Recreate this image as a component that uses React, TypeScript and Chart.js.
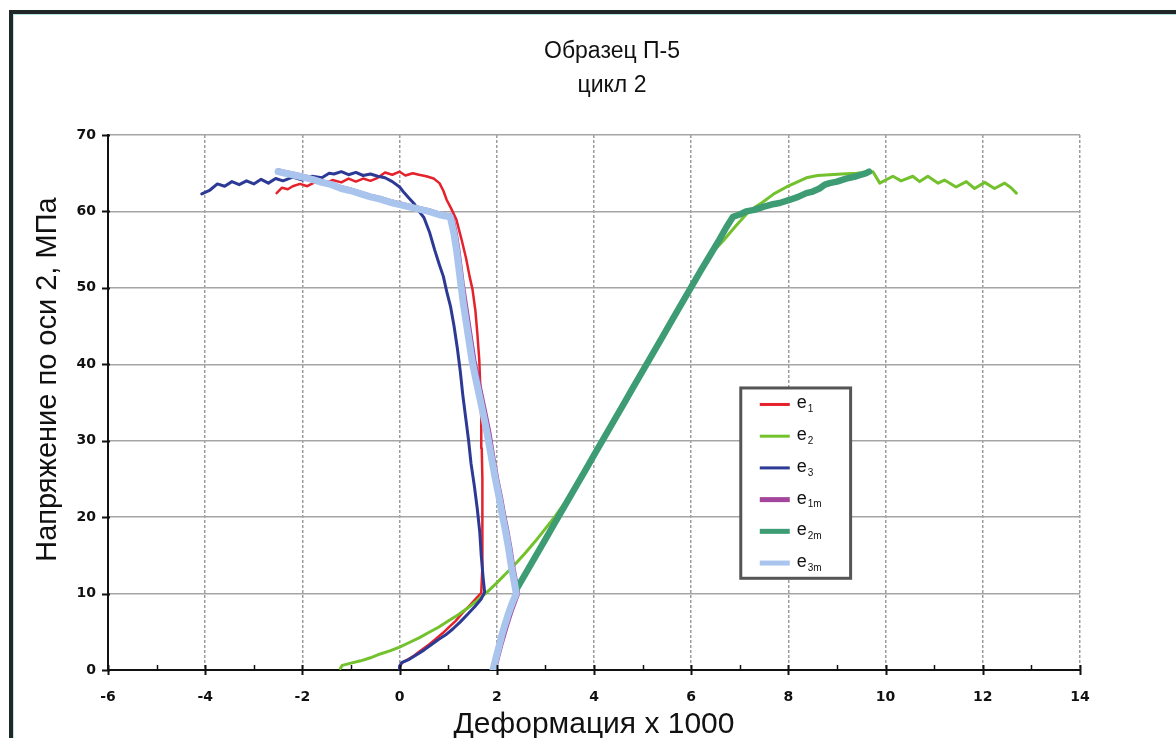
import React, { useEffect, useRef } from "react";
import { Chart, registerables } from "chart.js";

Chart.register(...registerables);

// ---------- text ----------
const titleLines = ["Образец П-5", "цикл 2"];
const xAxisTitle = "Деформация x 1000";
const yAxisTitle = "Напряжение по оси 2, МПа";
const seriesBase = ["e", "e", "e", "e", "e", "e"];
const seriesSub = ["1", "2", "3", "1m", "2m", "3m"];
const seriesNames = ["e1", "e2", "e3", "e1m", "e2m", "e3m"];

// ---------- axes ----------
const xMin = -6;
const xMax = 14;
const xStep = 2;
const yMin = 0;
const yMax = 70;
const yStep = 10;

// ---------- data ----------
const e1X = [0.0, 0.04, 0.15, 0.3, 0.45, 0.6, 0.75, 0.9, 1.0, 1.15, 1.3, 1.45, 1.58, 1.68, 1.7, 1.71, 1.7, 1.7, 1.69, 1.68, 1.66, 1.64, 1.6, 1.56, 1.5, 1.44, 1.37, 1.28, 1.17, 1.06, 0.97, 0.9, 0.82, 0.7, 0.55, 0.4, 0.27, 0.12, 0.0, -0.15, -0.3, -0.45, -0.6, -0.75, -0.9, -1.05, -1.2, -1.38, -1.55, -1.75, -1.9, -2.05, -2.2, -2.3, -2.42, -2.53];
const e1Y = [0.3, 0.9, 1.3, 1.9, 2.6, 3.3, 4.1, 4.9, 5.5, 6.4, 7.5, 8.5, 9.4, 10.1, 13.0, 17.0, 21.0, 25.0, 29.0, 33.0, 37.0, 40.5, 44.0, 47.0, 49.8, 51.5, 53.8, 56.2, 58.9, 60.4, 61.5, 62.7, 63.7, 64.3, 64.6, 64.8, 65.0, 64.7, 65.2, 64.8, 65.1, 64.4, 64.0, 64.3, 63.9, 64.3, 63.8, 64.1, 63.6, 63.8, 63.3, 63.6, 63.3, 62.9, 63.1, 62.4];

const e2X = [-1.22, -1.18, -1.0, -0.8, -0.6, -0.4, -0.2, 0.0, 0.2, 0.4, 0.6, 0.8, 1.0, 1.2, 1.4, 1.6, 1.8, 2.0, 2.2, 2.4, 2.6, 2.8, 3.0, 3.2, 3.4, 3.6, 3.8, 4.0, 4.3, 4.6, 4.9, 5.2, 5.5, 5.8, 6.1, 6.4, 6.65, 6.93, 7.2, 7.47, 7.7, 7.96, 8.2, 8.37, 8.6, 8.85, 9.1, 9.4, 9.74, 9.88, 10.15, 10.32, 10.56, 10.7, 10.87, 11.08, 11.21, 11.45, 11.66, 11.83, 12.04, 12.24, 12.45, 12.58, 12.69];
const e2Y = [0.2, 0.6, 0.9, 1.2, 1.6, 2.1, 2.5, 3.0, 3.6, 4.2, 4.9, 5.6, 6.4, 7.2, 8.1, 9.1, 10.2, 11.4, 12.7, 14.0, 15.4, 16.9, 18.5, 20.1, 21.9, 24.0, 26.1, 28.3, 31.6, 35.0, 38.3, 41.6, 44.9, 48.2, 51.4, 54.4, 56.1, 58.2, 60.1, 61.2, 62.3, 63.2, 63.9, 64.4, 64.7, 64.8, 64.9, 65.0, 65.2, 63.7, 64.6, 64.0, 64.6, 63.9, 64.6, 63.7, 64.1, 63.2, 63.9, 63.0, 63.8, 63.0, 63.7, 63.1, 62.4];

const e3X = [0.0, 0.0, 0.05, 0.2, 0.35, 0.5, 0.65, 0.8, 0.95, 1.1, 1.25, 1.4, 1.55, 1.68, 1.75, 1.72, 1.68, 1.65, 1.6, 1.54, 1.47, 1.42, 1.36, 1.3, 1.25, 1.19, 1.12, 1.05, 0.97, 0.9, 0.82, 0.72, 0.62, 0.5, 0.4, 0.3, 0.2, 0.1, 0.0, -0.15, -0.3, -0.45, -0.6, -0.75, -0.9, -1.05, -1.2, -1.35, -1.45, -1.6, -1.8, -2.0, -2.2, -2.4, -2.55, -2.7, -2.85, -3.0, -3.15, -3.3, -3.45, -3.6, -3.75, -3.9, -4.07];
const e3Y = [0.0, 0.5, 1.0, 1.4, 2.0, 2.6, 3.3, 4.0, 4.6, 5.4, 6.3, 7.3, 8.3, 9.3, 10.2, 12.0, 15.0, 18.0, 21.0, 24.0, 27.0, 30.0, 33.0, 36.0, 39.0, 42.0, 45.0, 47.5, 49.5, 51.5, 53.0, 55.0, 57.2, 59.2, 60.0, 61.0, 61.7, 62.4, 63.2, 63.9, 64.4, 64.6, 64.9, 64.7, 65.1, 64.8, 65.2, 64.9, 65.0, 64.4, 64.6, 64.1, 64.5, 64.0, 64.3, 63.7, 64.2, 63.6, 64.0, 63.5, 63.9, 63.3, 63.6, 62.8, 62.3];

const e1mX = [1.95, 1.99, 2.03, 2.08, 2.14, 2.21, 2.28, 2.36, 2.43, 2.39, 2.33, 2.27, 2.2, 2.15, 2.08, 2.0, 1.92, 1.84, 1.76, 1.67, 1.59, 1.53, 1.47, 1.41, 1.35, 1.29, 1.24, 1.2, 1.15, 1.1, 1.06, 0.95, 0.8, 0.6, 0.4, 0.2, 0.0, -0.2, -0.4, -0.6, -0.8, -1.0, -1.2, -1.4, -1.6, -1.8, -2.0, -2.2, -2.35, -2.48];
const e1mY = [0.0, 1.0, 2.0, 3.2, 4.5, 6.0, 7.4, 8.8, 10.0, 11.5, 13.5, 16.0, 18.5, 20.0, 22.5, 25.0, 27.8, 31.0, 33.5, 36.2, 38.6, 40.5, 43.0, 45.5, 48.0, 50.5, 53.0, 55.0, 57.0, 58.5, 59.4, 59.5, 59.7, 60.1, 60.4, 60.7, 61.0, 61.3, 61.7, 62.0, 62.4, 62.8, 63.1, 63.6, 63.9, 64.3, 64.6, 64.9, 65.1, 65.3];

const e2mX = [2.4, 2.6, 2.8, 3.0, 3.2, 3.4, 3.6, 3.8, 4.0, 4.2, 4.4, 4.6, 4.8, 5.0, 5.2, 5.4, 5.6, 5.8, 6.0, 6.2, 6.4, 6.58, 6.72, 6.86, 7.0, 7.13, 7.3, 7.48, 7.65, 7.82, 8.02, 8.2, 8.37, 8.5, 8.64, 8.75, 8.85, 9.0, 9.19, 9.4, 9.6, 9.66];
const e2mY = [10.5, 12.7, 14.9, 17.1, 19.3, 21.5, 23.7, 25.9, 28.1, 30.3, 32.5, 34.7, 36.9, 39.1, 41.3, 43.5, 45.7, 47.9, 50.1, 52.3, 54.4, 56.3, 57.9, 59.3, 59.6, 60.0, 60.2, 60.6, 60.9, 61.1, 61.5, 61.9, 62.4, 62.6, 63.0, 63.5, 63.7, 63.9, 64.3, 64.6, 65.0, 65.2];

const e3mX = [1.92, 1.96, 2.0, 2.05, 2.1, 2.17, 2.24, 2.32, 2.4, 2.36, 2.3, 2.24, 2.17, 2.12, 2.05, 1.97, 1.89, 1.8, 1.72, 1.63, 1.55, 1.49, 1.43, 1.37, 1.31, 1.26, 1.21, 1.17, 1.12, 1.07, 1.04, 0.95, 0.8, 0.6, 0.4, 0.2, 0.0, -0.2, -0.4, -0.6, -0.8, -1.0, -1.2, -1.4, -1.6, -1.8, -2.0, -2.2, -2.35, -2.5];
const e3mY = [0.0, 1.0, 2.0, 3.2, 4.5, 6.0, 7.4, 8.8, 10.0, 11.5, 13.5, 16.0, 18.5, 20.0, 22.5, 25.0, 27.8, 31.0, 33.5, 36.2, 38.6, 40.5, 43.0, 45.5, 48.0, 50.5, 53.0, 55.0, 57.0, 58.5, 59.3, 59.4, 59.6, 60.0, 60.3, 60.6, 60.9, 61.2, 61.6, 61.9, 62.3, 62.7, 63.0, 63.5, 63.8, 64.2, 64.5, 64.8, 65.0, 65.2];

// ---------- styles ----------
const seriesColors = ["#e5212b", "#73c12c", "#2c3a95", "#a4459d", "#3e9c74", "#a9c5ee"];
const seriesWidths = [2.5, 3, 3, 5, 6.5, 7];
const seriesOrder = [6, 5, 4, 3, 2, 1];

const zip = (xs: number[], ys: number[]) => xs.map((x, i) => ({ x, y: ys[i] }));

const seriesData = [
  zip(e1X, e1Y),
  zip(e2X, e2Y),
  zip(e3X, e3Y),
  zip(e1mX, e1mY),
  zip(e2mX, e2mY),
  zip(e3mX, e3mY),
];

// legend box corners in data units (placement inside plot)
const legendBoxX = [7.02, 9.28];
const legendBoxY = [36.9, 12.0];
// vertical axis title centre, in data units
const yTitleCentre = 38;

const axisTicksPlugin = {
  id: "axisTicks",
  afterDraw(chart: any) {
    const { ctx, scales, chartArea } = chart;
    const x = scales.x;
    const y = scales.y;
    ctx.save();
    ctx.strokeStyle = "#111";
    for (let v = xMin; v <= xMax; v += 1) {
      const px = Math.round(x.getPixelForValue(v)) + 0.5;
      ctx.beginPath();
      if (v % 2 === 0) {
        ctx.lineWidth = 2;
        ctx.moveTo(px, chartArea.bottom - 5);
        ctx.lineTo(px, chartArea.bottom + 5);
      } else {
        ctx.lineWidth = 1.5;
        ctx.moveTo(px, chartArea.bottom - 5);
        ctx.lineTo(px, chartArea.bottom);
      }
      ctx.stroke();
    }
    for (let v = yMin; v <= yMax; v += yStep) {
      const py = Math.round(y.getPixelForValue(v)) + 0.5;
      ctx.lineWidth = 2;
      ctx.beginPath();
      ctx.moveTo(chartArea.left - 6, py);
      ctx.lineTo(chartArea.left + 2, py);
      ctx.stroke();
    }
    // vertical axis title
    const cy = y.getPixelForValue(yTitleCentre);
    ctx.translate(48, cy);
    ctx.rotate(-Math.PI / 2);
    ctx.fillStyle = "#111";
    ctx.textAlign = "center";
    ctx.textBaseline = "middle";
    ctx.font = "29px 'Liberation Sans', Arial, sans-serif";
    ctx.fillText(yAxisTitle, 0, 0);
    ctx.restore();
  },
};

const boxLegendPlugin = {
  id: "boxLegend",
  afterDraw(chart: any) {
    const { ctx, scales } = chart;
    const left = scales.x.getPixelForValue(legendBoxX[0]);
    const right = scales.x.getPixelForValue(legendBoxX[1]);
    const top = scales.y.getPixelForValue(legendBoxY[0]);
    const bottom = scales.y.getPixelForValue(legendBoxY[1]);
    ctx.save();
    ctx.fillStyle = "#ffffff";
    ctx.fillRect(left, top, right - left, bottom - top);
    ctx.strokeStyle = "#555555";
    ctx.lineWidth = 3;
    ctx.strokeRect(left, top, right - left, bottom - top);
    const n = seriesNames.length;
    const step = (bottom - top) / n;
    for (let i = 0; i < n; i++) {
      const cy = top + step * (i + 0.52);
      ctx.strokeStyle = seriesColors[i];
      ctx.lineWidth = i < 3 ? 3 : 5;
      ctx.beginPath();
      ctx.moveTo(left + 19, cy);
      ctx.lineTo(left + 49, cy);
      ctx.stroke();
      ctx.fillStyle = "#111";
      ctx.textBaseline = "middle";
      ctx.textAlign = "left";
      ctx.font = "18px 'Liberation Sans', Arial, sans-serif";
      const bx = left + 56;
      ctx.fillText(seriesBase[i], bx, cy - 1);
      const w = ctx.measureText(seriesBase[i]).width;
      ctx.font = "10px 'Liberation Sans', Arial, sans-serif";
      ctx.fillText(seriesSub[i], bx + w + 1, cy + 5);
    }
    ctx.restore();
  },
};

export default function App() {
  const canvasRef = useRef<HTMLCanvasElement | null>(null);

  useEffect(() => {
    const canvas = canvasRef.current;
    if (!canvas) return;
    const chart = new Chart(canvas, {
      type: "scatter",
      data: {
        datasets: seriesData.map((d, i) => ({
          label: seriesNames[i],
          data: d,
          showLine: true,
          borderColor: seriesColors[i],
          backgroundColor: seriesColors[i],
          borderWidth: seriesWidths[i],
          pointRadius: 0,
          pointHoverRadius: 0,
          tension: 0,
          fill: false,
          order: seriesOrder[i],
          borderJoinStyle: "round" as const,
          borderCapStyle: "round" as const,
        })),
      },
      options: {
        animation: false,
        responsive: false,
        devicePixelRatio: 1,
        layout: { padding: { left: 0, right: 0, top: 35, bottom: 0 } },
        plugins: {
          legend: { display: false },
          tooltip: { enabled: false },
          title: {
            display: true,
            text: titleLines,
            color: "#111",
            font: { family: "'Liberation Sans', Arial, sans-serif", size: 23, weight: "normal", lineHeight: 1.478 },
            padding: { top: 0, bottom: 32 },
          },
        },
        scales: {
          x: {
            type: "linear",
            min: xMin,
            max: xMax,
            afterFit: (s: any) => {
              s.height = 90;
            },
            ticks: {
              stepSize: xStep,
              color: "#111",
              padding: 19,
              font: { family: "'DejaVu Sans', sans-serif", size: 14, weight: "bold" },
            },
            grid: { color: "#9c9c9c", lineWidth: 1.5, drawTicks: false },
            border: { display: true, color: "#111", width: 2, dash: [3, 2] },
            title: {
              display: true,
              text: xAxisTitle,
              color: "#111",
              font: { family: "'Liberation Sans', Arial, sans-serif", size: 30, weight: "normal" },
              padding: { top: 0, bottom: 17 },
            },
          },
          y: {
            type: "linear",
            min: yMin,
            max: yMax,
            afterFit: (s: any) => {
              s.width = 108;
            },
            ticks: {
              stepSize: yStep,
              color: "#111",
              padding: 12,
              font: { family: "'DejaVu Sans', sans-serif", size: 14, weight: "bold" },
            },
            grid: { color: "#a5a5a5", lineWidth: 1.5, drawTicks: false },
            border: { display: true, color: "#111", width: 2 },
            title: { display: false, text: yAxisTitle },
          },
          yRight: {
            type: "linear",
            position: "right",
            min: yMin,
            max: yMax,
            afterFit: (s: any) => {
              s.width = 144;
            },
            ticks: { display: false },
            grid: { display: false, drawTicks: false },
            border: { display: false },
          },
        },
      },
      plugins: [axisTicksPlugin, boxLegendPlugin],
    });
    return () => chart.destroy();
  }, []);

  return (
    <div
      style={{
        position: "fixed",
        left: 0,
        top: 0,
        width: 1176,
        height: 738,
        overflow: "hidden",
        background: "#ffffff",
      }}
    >
      <div
        style={{
          position: "absolute",
          left: 9,
          top: 10,
          width: 1200,
          height: 800,
          borderLeft: "4px solid #1f2727",
          borderTop: "4px solid #1f2727",
          boxShadow: "inset 1px 1px 0 #b6e2e8",
        }}
      />
      <canvas
        ref={canvasRef}
        width={1224}
        height={760}
        style={{ position: "absolute", left: 0, top: 0, width: 1224, height: 760 }}
      />
    </div>
  );
}
